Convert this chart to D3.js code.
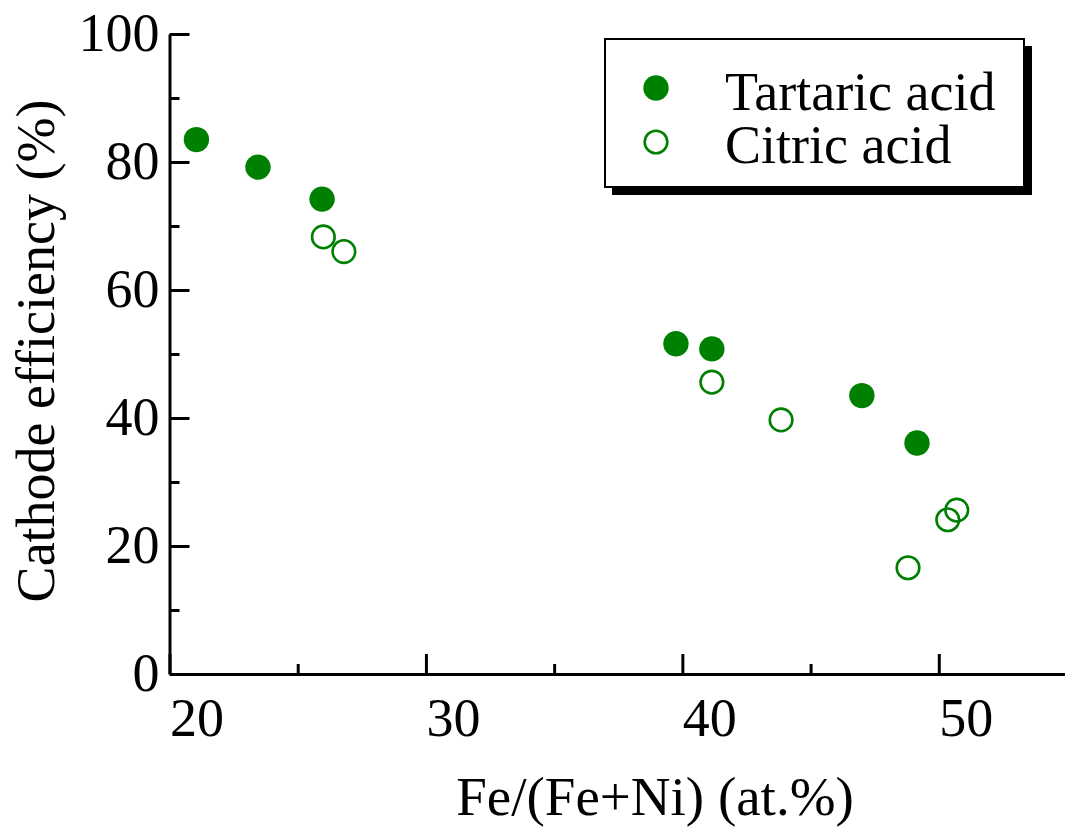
<!DOCTYPE html>
<html>
<head>
<meta charset="utf-8">
<script src="https://cdn.jsdelivr.net/npm/d3@7"></script>
<style>
  body { margin: 0; background: #fff; }
  text { font-family: "Liberation Serif", "Times New Roman", serif; fill: #000; }
</style>
</head>
<body>
<div id="chart"></div>
<script>
// data
const tartaric_x = [21.05, 23.45, 25.95, 39.75, 41.15, 47.0, 49.15];
const tartaric_y = [83.5, 79.2, 74.2, 51.6, 50.8, 43.5, 36.1];
const citric_x = [26.0, 26.8, 41.15, 43.85, 48.8, 50.35, 50.7];
const citric_y = [68.3, 66.0, 45.6, 39.7, 16.6, 24.1, 25.6];
const x_major = [20, 30, 40, 50];
const x_minor = [25, 35, 45];
const y_major = [0, 20, 40, 60, 80, 100];
const y_minor = [10, 30, 50, 70, 90];
const series_names = ["Tartaric acid", "Citric acid"];

function drawChart() {
    const div_id = "#chart";

    let width = 1065;
    let height = 829;
    const green = "#008000";
    const fs = 54;

    const x = d3.scaleLinear().domain([20, 55]).range([169.5, 1067]);
    const y = d3.scaleLinear().domain([0, 100]).range([674, 34]);

    const svg = d3.select(div_id)
        .append("svg")
        .attr("width", width)
        .attr("height", height);

    // x axis
    const gx = svg.append("g")
        .attr("transform", "translate(0," + y(0) + ")")
        .call(d3.axisBottom(x).tickValues(x_major).tickSizeInner(-20).tickSizeOuter(0).tickFormat(d3.format("d")));
    gx.append("g").call(d3.axisBottom(x).tickValues(x_minor).tickSizeInner(-10).tickSizeOuter(0).tickFormat(""))
        .select(".domain").remove();
    gx.selectAll("text")
        .attr("text-anchor", "start")
        .attr("y", 62)
        .attr("dy", null)
        .style("font-size", fs + "px");

    // y axis
    const gy = svg.append("g")
        .attr("transform", "translate(" + x(20) + ",0)")
        .call(d3.axisLeft(y).tickValues(y_major).tickSizeInner(-20).tickSizeOuter(0).tickFormat(d3.format("d")));
    gy.append("g").call(d3.axisLeft(y).tickValues(y_minor).tickSizeInner(-10).tickSizeOuter(0).tickFormat(""))
        .select(".domain").remove();
    gy.selectAll("text")
        .attr("x", -10)
        .attr("dy", null)
        .attr("y", 16)
        .style("font-size", fs + "px");

    svg.selectAll(".domain, .tick line")
        .attr("stroke", "#000")
        .attr("stroke-width", 3);

    // axis titles
    svg.append("text")
        .attr("x", 655)
        .attr("y", 815)
        .attr("text-anchor", "middle")
        .style("font-size", "55px")
        .text("Fe/(Fe+Ni) (at.%)");

    svg.append("text")
        .attr("transform", "translate(54,351) rotate(-90)")
        .attr("text-anchor", "middle")
        .style("font-size", "54px")
        .text("Cathode efficiency (%)");

    // points
    svg.append("g").selectAll("circle")
        .data(d3.zip(tartaric_x, tartaric_y))
        .join("circle")
        .attr("cx", d => x(d[0]))
        .attr("cy", d => y(d[1]))
        .attr("r", 12.7)
        .attr("fill", green);

    svg.append("g").selectAll("circle")
        .data(d3.zip(citric_x, citric_y))
        .join("circle")
        .attr("cx", d => x(d[0]))
        .attr("cy", d => y(d[1]))
        .attr("r", 11.3)
        .attr("fill", "none")
        .attr("stroke", green)
        .attr("stroke-width", 2.6);

    // legend
    const lg = svg.append("g");
    lg.append("rect")
        .attr("x", 612).attr("y", 46).attr("width", 420).attr("height", 149)
        .attr("fill", "#000");
    lg.append("rect")
        .attr("x", 605).attr("y", 39).attr("width", 419).attr("height", 148)
        .attr("fill", "#fff").attr("stroke", "#000").attr("stroke-width", 2);

    lg.append("circle").attr("cx", 656).attr("cy", 88).attr("r", 12.7).attr("fill", green);
    lg.append("circle").attr("cx", 656).attr("cy", 142).attr("r", 11.3)
        .attr("fill", "none").attr("stroke", green).attr("stroke-width", 2.6);

    lg.selectAll("text.lab")
        .data(series_names)
        .join("text")
        .attr("class", "lab")
        .attr("x", 725)
        .attr("y", (d, i) => 110 + i * 53)
        .style("font-size", fs + "px")
        .text(d => d);
}
drawChart();
</script>
</body>
</html>
